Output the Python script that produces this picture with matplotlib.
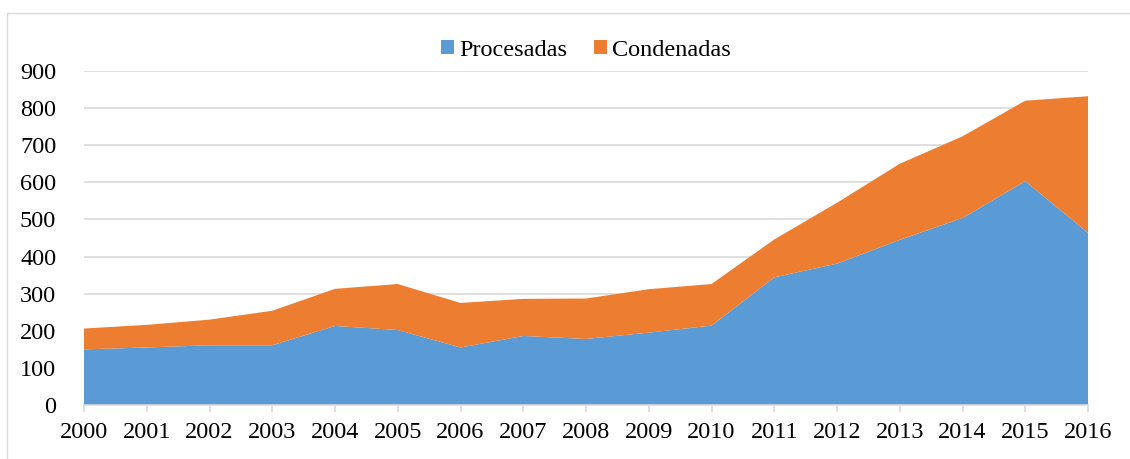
import matplotlib
matplotlib.use("Agg")
import matplotlib.pyplot as plt
from matplotlib.patches import Rectangle

years = list(range(2000, 2017))
procesadas = [150, 155, 161, 161, 213, 202, 155, 186, 178, 195, 214, 344, 381, 445, 504, 603, 464]
condenadas = [56, 61, 69, 93, 100, 124, 120, 100, 109, 117, 112, 102, 164, 205, 220, 217, 368]
yticks = [0, 100, 200, 300, 400, 500, 600, 700, 800, 900]

blue = "#5B9BD5"
orange = "#ED7D31"

plt.rcParams['font.family'] = ['Liberation Serif', 'DejaVu Serif']

fig = plt.figure(figsize=(11.30, 4.59), dpi=100)
# outer chart border
fig.patches.append(Rectangle((7/1130, -0.01), 1.2, 1 - 13/459 + 0.01, transform=fig.transFigure,
                             fill=False, edgecolor="#d9d9d9", linewidth=1.0))
ax = fig.add_axes([84/1130, 1 - 405/459, (1088 - 84)/1130, (405 - 71)/459])

ax.stackplot(years, procesadas, condenadas, colors=[blue, orange],
             labels=["Procesadas", "Condenadas"], linewidth=0)

ax.set_xlim(2000, 2016)
ax.set_ylim(0, 900)
ax.set_yticks(yticks)
ax.set_xticks(years)
ax.set_xticklabels([str(y) for y in years])
ax.grid(axis='y', color="#d9d9d9", linewidth=1.2)
ax.set_axisbelow(True)
for s in ["top", "right", "left"]:
    ax.spines[s].set_visible(False)
ax.spines["bottom"].set_color("#d9d9d9")
ax.spines["bottom"].set_linewidth(1.2)
ax.tick_params(axis='y', length=0, pad=20, labelsize=17.5)
ax.tick_params(axis='x', length=5, color="#d9d9d9", width=1.2, pad=7, labelsize=17.5)

ax.legend(loc="center", bbox_to_anchor=(0.5, (405 - 50) / (405 - 71)), ncol=2, frameon=False,
          fontsize=17.5, handlelength=0.55, handleheight=0.55, handletextpad=0.2,
          columnspacing=1.1, borderaxespad=0)

fig.savefig("out.png", dpi=100)
